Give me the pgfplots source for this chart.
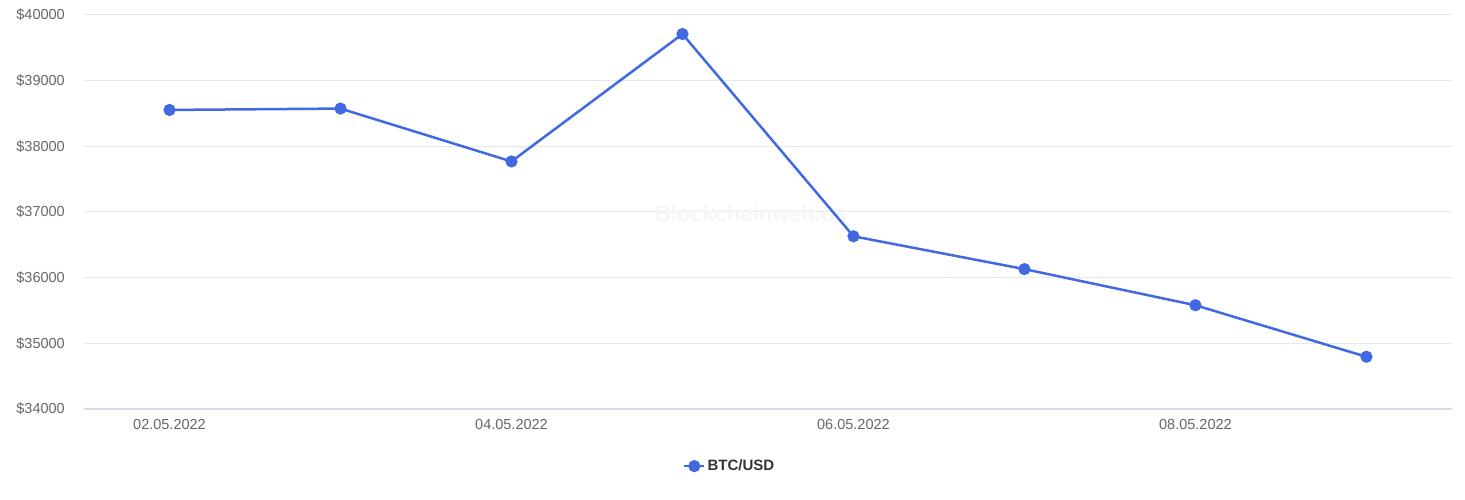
\documentclass[border=0pt]{standalone}
\usepackage{pgfplots}
\pgfplotsset{compat=1.18}
\usepackage{fontspec}
\setmainfont{Liberation Sans}

\definecolor{btcblue}{RGB}{65,105,225}
\definecolor{gridgray}{RGB}{232,232,236}
\definecolor{axislav}{RGB}{216,216,240}
\definecolor{ticktext}{RGB}{102,102,102}
\definecolor{legtext}{RGB}{51,51,51}
\definecolor{wmark}{RGB}{246,246,246}

\begin{document}
\begin{tikzpicture}
\path[use as bounding box] (0,0) rectangle (1465pt,500pt);
\begin{axis}[
    scale only axis,
    width=1368pt, height=394pt,
    at={(84pt,91pt)}, anchor=south west,
    xmin=-0.5, xmax=7.5,
    ymin=34000, ymax=40000,
    xtick={0,2,4,6},
    xticklabels={02.05.2022,04.05.2022,06.05.2022,08.05.2022},
    ytick={34000,35000,36000,37000,38000,39000,40000},
    yticklabels={\$34000,\$35000,\$36000,\$37000,\$38000,\$39000,\$40000},
    scaled y ticks=false,
    major tick length=0pt,
    axis x line*=bottom, axis y line*=left,
    x axis line style={draw=axislav, line width=1.5pt, -},
    y axis line style={draw=none},
    ymajorgrids, grid style={draw=gridgray, line width=1pt},
    tick label style={font=\fontsize{14.5}{16}\selectfont, text=ticktext, inner sep=0pt},
    yticklabel style={anchor=east, xshift=-19pt},
    xticklabel style={anchor=north, yshift=-10pt},
    clip=false,
    legend style={draw=none, fill=none, at={(axis description cs:0.472,-0.145)}, anchor=center,
      font=\fontsize{15}{17}\selectfont\bfseries, text=legtext, inner sep=0pt},
    legend image code/.code={\draw[btcblue, line width=2.5pt] (0pt,0pt) -- (20pt,0pt); \fill[btcblue] (10pt,0pt) circle (4.8pt);},
]
\node[font=\fontsize{22}{24}\selectfont\bfseries, text=wmark] at (axis cs:3.4,36970) {Blockchainwelt.de};
\addplot[color=btcblue, line width=2.5pt, mark=*, mark size=4.8pt, mark options={fill=btcblue, draw=none}]
coordinates {
(0,38554)
(1,38575)
(2,37770)
(3,39710)
(4,36630)
(5,36130)
(6,35580)
(7,34795)
};
\legend{BTC/USD}
\end{axis}
\end{tikzpicture}
\end{document}
